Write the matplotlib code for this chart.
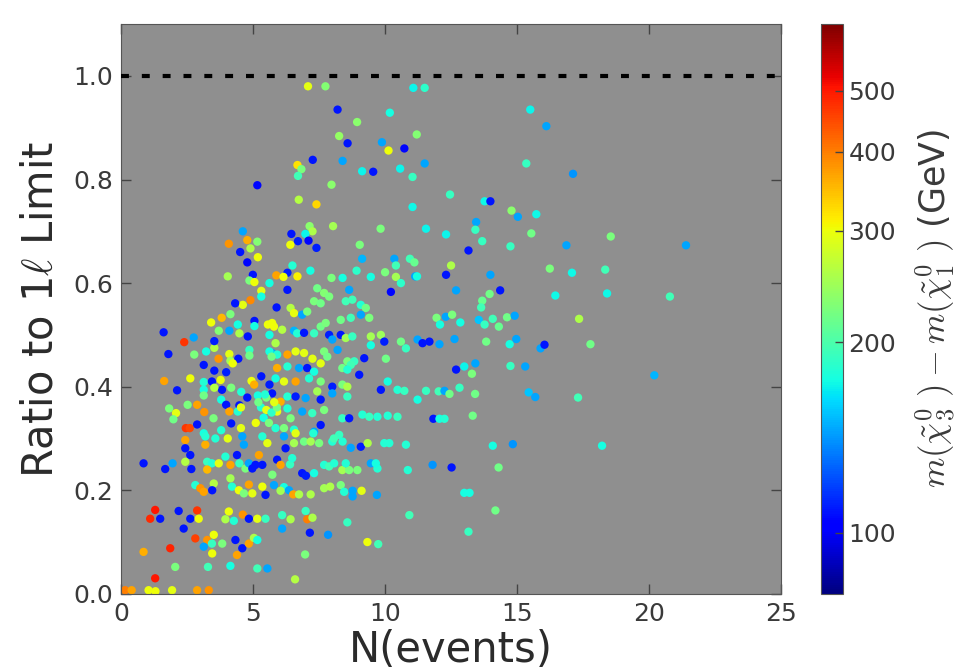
import numpy as np
import matplotlib
matplotlib.use('Agg')
import matplotlib.pyplot as plt
from matplotlib.colors import LogNorm
from matplotlib.ticker import FixedLocator, FixedFormatter, NullLocator

plt.rcParams['mathtext.fontset'] = 'cm'

# Points: N(events), ratio to the 1-lepton limit,
# and the mass splitting m(chi3) - m(chi1) in GeV used for the colour.
n_events = [
    # upper left
    7.08, 7.74, 8.20, 8.94, 8.26, 8.58, 7.26, 8.39, 9.13, 9.55,
    6.68, 6.83, 6.70, 5.16, 7.97, 6.73, 7.40, 7.14, 8.03, 7.25,
    6.98, 6.45, 6.70, 7.10, 7.40, 6.41, 4.61, 4.08, 4.78, 5.16,
    4.90, 4.51, 5.18, 4.78, 9.04, 9.13, 4.04, 6.49, 7.17, 8.92,
    6.30, 5.88, 6.68, 4.99, 7.97, 8.39, 9.46, 6.15,
    # upper right
    11.07, 11.50, 10.18, 15.50, 16.11, 11.20, 9.88, 10.13, 10.73, 11.50,
    10.57, 11.04, 15.35, 17.12, 12.46, 11.04, 13.77, 13.99, 14.79, 15.03,
    15.73, 9.83, 11.55, 12.31, 13.45, 13.42, 13.68, 15.54, 14.75, 13.16,
    16.87, 18.55, 21.40, 10.35, 10.41, 10.94, 11.11, 12.50, 12.31, 10.00,
    10.41, 11.14, 11.21, 13.99, 16.24, 17.08, 18.34,
    # right
    12.69, 14.36, 13.96, 13.68, 13.64, 16.45, 18.41, 20.79, 11.95, 12.08,
    12.30, 12.54, 12.85, 13.55, 13.77, 14.08, 14.31, 14.62, 14.91, 17.35,
    11.68, 12.06, 12.63, 13.83, 14.72, 14.97, 15.89, 16.04, 17.78, 12.69,
    13.00, 13.42, 13.29, 14.75, 15.31, 20.20, 11.55, 12.03, 12.25, 12.44,
    12.82, 13.41, 15.44, 15.69, 17.31, 11.83, 12.06, 12.25, 13.32, 14.08,
    14.84, 18.22, 11.80, 12.52, 14.30, 13.00, 13.20, 14.18, 13.16,
    # middle
    10.60, 6.30, 7.43, 7.69, 7.88, 8.64, 10.22, 7.31, 7.56, 8.51,
    8.76, 9.08, 9.27, 5.89, 6.42, 6.55, 6.86, 7.05, 8.32, 8.70,
    9.08, 9.40, 5.72, 5.79, 6.10, 6.55, 6.67, 6.93, 7.31, 7.56,
    7.75, 7.88, 8.00, 8.32, 8.51, 8.76, 9.46, 9.84, 9.97, 9.46,
    10.60, 10.79, 11.23, 11.42, 5.85, 5.72, 5.91, 6.30, 6.61, 6.93,
    7.25, 7.56, 7.69, 7.81, 8.20, 8.57, 8.83, 9.21, 10.03, 5.91,
    6.30, 6.74, 7.05, 7.31, 8.38, 8.70, 8.57, 9.02, 5.85, 6.17,
    6.61, 7.12, 7.56, 8.00, 8.38, 8.57, 10.10, 9.84, 10.47, 10.73,
    11.23, 5.72, 6.04, 6.30, 6.61, 6.99, 7.56, 7.43, 8.00, 8.57,
    5.91, 6.30, 6.42, 6.86, 7.24, 7.69, 7.56, 8.38, 8.64, 9.14,
    9.40, 9.71, 10.10, 10.47, 5.85, 6.17, 6.55, 7.31, 8.26,
    # left middle
    4.86, 5.05, 5.31, 5.31, 5.62, 4.90, 4.61, 4.32, 4.14, 3.81,
    3.41, 3.70, 4.10, 4.42, 4.48, 5.05, 5.05, 5.56, 4.80, 5.62,
    1.61, 2.75, 2.39, 1.79, 2.77, 3.22, 3.53, 3.53, 3.69, 4.10,
    4.14, 4.44, 4.86, 4.86, 5.62, 5.70, 3.13, 3.53, 3.98, 4.23,
    1.63, 2.62, 2.12, 3.13, 3.44, 3.77, 3.82, 3.53, 3.13, 3.13,
    4.17, 4.55, 4.78, 4.94, 5.04, 5.31, 5.62, 5.18, 5.50, 3.79,
    3.98, 2.52, 2.88, 1.82, 2.08, 1.98, 3.15, 3.50, 4.10, 4.48,
    4.42, 4.54, 2.45, 2.60, 2.88, 4.17, 4.54, 3.79, 3.13,
    5.30, 5.50, 5.70, 5.90, 5.40, 5.60, 5.10, 5.80, 5.20, 5.45,
    # lower left
    2.43, 3.19, 3.19, 3.57, 4.04, 4.59, 4.65, 5.35, 5.54, 2.43,
    2.62, 0.85, 1.67, 1.95, 2.43, 2.66, 3.26, 3.44, 3.70, 3.26,
    4.14, 3.95, 4.39, 4.48, 4.71, 4.84, 4.97, 5.09, 5.35, 5.22,
    5.73, 4.14, 4.20, 4.46, 4.84, 5.35, 4.97, 4.65, 5.47, 2.81,
    3.00, 3.13, 3.51, 3.45, 1.29, 1.10, 1.48, 2.18, 2.88, 2.62,
    2.94, 2.37, 4.08, 3.95, 4.27, 4.61, 4.84, 5.16, 5.47, 2.81,
    3.26, 3.51, 3.44, 3.83, 4.33, 4.59, 4.84, 5.03, 5.16, 4.39,
    3.45, 3.13, 1.86, 0.85, 2.05, 3.29, 4.14, 5.16, 5.54, 1.29,
    0.15, 0.40, 1.04, 1.30, 1.93, 2.88, 3.32,
    # lower middle
    6.17, 6.61, 6.55, 6.93, 7.18, 7.50, 8.00, 8.06, 8.39, 8.70,
    9.08, 9.34, 9.97, 10.16, 10.79, 7.28, 6.23, 5.91, 6.04, 6.40,
    6.48, 6.86, 7.00, 7.31, 7.69, 7.88, 8.07, 8.38, 8.64, 8.95,
    8.51, 9.46, 9.71, 9.65, 10.86, 5.79, 6.17, 6.04, 6.36, 6.52,
    6.74, 7.18, 7.69, 7.92, 8.32, 8.45, 8.77, 8.77, 9.11, 9.69,
    6.10, 6.42, 6.99, 7.05, 7.25, 6.10, 7.15, 7.84, 8.57, 10.92,
    9.33, 9.74, 6.97, 6.59,
]

ratio_limit = [
    # upper left
    0.980, 0.980, 0.935, 0.911, 0.884, 0.870, 0.838, 0.836, 0.816, 0.815,
    0.828, 0.820, 0.807, 0.789, 0.790, 0.761, 0.752, 0.710, 0.710, 0.700,
    0.695, 0.695, 0.681, 0.682, 0.668, 0.674, 0.700, 0.676, 0.683, 0.680,
    0.667, 0.660, 0.650, 0.640, 0.674, 0.647, 0.613, 0.634, 0.624, 0.624,
    0.620, 0.615, 0.613, 0.616, 0.610, 0.610, 0.612, 0.612,
    # upper right
    0.977, 0.977, 0.929, 0.935, 0.903, 0.887, 0.872, 0.856, 0.860, 0.831,
    0.821, 0.805, 0.831, 0.811, 0.771, 0.747, 0.758, 0.758, 0.740, 0.728,
    0.733, 0.705, 0.705, 0.694, 0.718, 0.703, 0.681, 0.696, 0.671, 0.663,
    0.673, 0.690, 0.673, 0.647, 0.634, 0.647, 0.640, 0.634, 0.616, 0.621,
    0.612, 0.613, 0.613, 0.616, 0.628, 0.620, 0.626,
    # right
    0.586, 0.586, 0.579, 0.566, 0.553, 0.576, 0.580, 0.574, 0.533, 0.520,
    0.535, 0.539, 0.524, 0.529, 0.520, 0.531, 0.516, 0.534, 0.537, 0.531,
    0.487, 0.482, 0.492, 0.487, 0.482, 0.492, 0.474, 0.481, 0.482, 0.433,
    0.439, 0.445, 0.425, 0.440, 0.439, 0.422, 0.392, 0.391, 0.392, 0.386,
    0.398, 0.386, 0.389, 0.380, 0.379, 0.338, 0.338, 0.338, 0.344, 0.286,
    0.289, 0.286, 0.249, 0.244, 0.244, 0.195, 0.195, 0.161, 0.120,
    # middle
    0.600, 0.587, 0.590, 0.581, 0.574, 0.587, 0.583, 0.565, 0.561, 0.565,
    0.568, 0.558, 0.552, 0.553, 0.552, 0.542, 0.539, 0.545, 0.529, 0.533,
    0.539, 0.533, 0.523, 0.516, 0.510, 0.508, 0.503, 0.504, 0.503, 0.516,
    0.523, 0.500, 0.491, 0.500, 0.494, 0.497, 0.497, 0.500, 0.487, 0.480,
    0.487, 0.474, 0.491, 0.484, 0.484, 0.465, 0.462, 0.462, 0.468, 0.465,
    0.454, 0.445, 0.468, 0.458, 0.471, 0.449, 0.449, 0.455, 0.454, 0.436,
    0.439, 0.436, 0.436, 0.429, 0.436, 0.442, 0.433, 0.423, 0.416, 0.410,
    0.410, 0.416, 0.410, 0.400, 0.404, 0.400, 0.410, 0.394, 0.394, 0.392,
    0.375, 0.387, 0.371, 0.381, 0.381, 0.378, 0.375, 0.391, 0.387, 0.381,
    0.352, 0.358, 0.339, 0.352, 0.349, 0.355, 0.326, 0.339, 0.339, 0.346,
    0.342, 0.342, 0.344, 0.342, 0.320, 0.320, 0.317, 0.313, 0.307,
    # left middle
    0.605, 0.602, 0.585, 0.574, 0.600, 0.567, 0.558, 0.561, 0.540, 0.533,
    0.524, 0.508, 0.508, 0.520, 0.503, 0.527, 0.517, 0.520, 0.497, 0.500,
    0.505, 0.495, 0.486, 0.463, 0.462, 0.468, 0.475, 0.488, 0.454, 0.463,
    0.450, 0.454, 0.471, 0.460, 0.468, 0.458, 0.442, 0.431, 0.428, 0.445,
    0.411, 0.416, 0.393, 0.409, 0.410, 0.413, 0.394, 0.398, 0.394, 0.383,
    0.398, 0.390, 0.379, 0.411, 0.404, 0.420, 0.404, 0.383, 0.379, 0.375,
    0.365, 0.365, 0.365, 0.358, 0.349, 0.337, 0.351, 0.339, 0.352, 0.364,
    0.352, 0.360, 0.320, 0.320, 0.327, 0.329, 0.320, 0.316, 0.310,
    0.360, 0.355, 0.350, 0.360, 0.340, 0.330, 0.330, 0.370, 0.370, 0.385,
    # lower left
    0.297, 0.288, 0.304, 0.300, 0.300, 0.304, 0.288, 0.304, 0.291, 0.281,
    0.268, 0.252, 0.241, 0.252, 0.255, 0.241, 0.255, 0.252, 0.252, 0.240,
    0.249, 0.265, 0.268, 0.252, 0.242, 0.252, 0.242, 0.249, 0.249, 0.268,
    0.230, 0.223, 0.207, 0.200, 0.211, 0.207, 0.194, 0.194, 0.191, 0.210,
    0.204, 0.197, 0.213, 0.200, 0.162, 0.145, 0.145, 0.160, 0.161, 0.145,
    0.145, 0.126, 0.159, 0.144, 0.141, 0.153, 0.145, 0.145, 0.145, 0.107,
    0.104, 0.114, 0.097, 0.097, 0.104, 0.088, 0.097, 0.108, 0.104, 0.075,
    0.078, 0.091, 0.088, 0.081, 0.052, 0.052, 0.054, 0.049, 0.049, 0.030,
    0.007, 0.007, 0.007, 0.005, 0.007, 0.007, 0.007,
    # lower middle
    0.304, 0.310, 0.291, 0.294, 0.294, 0.291, 0.294, 0.300, 0.294, 0.282,
    0.284, 0.291, 0.291, 0.291, 0.288, 0.310, 0.281, 0.259, 0.249, 0.250,
    0.262, 0.233, 0.228, 0.233, 0.249, 0.246, 0.252, 0.239, 0.239, 0.239,
    0.252, 0.252, 0.242, 0.252, 0.239, 0.210, 0.206, 0.199, 0.200, 0.192,
    0.192, 0.192, 0.204, 0.207, 0.210, 0.197, 0.199, 0.188, 0.199, 0.191,
    0.152, 0.144, 0.160, 0.144, 0.147, 0.126, 0.118, 0.114, 0.138, 0.152,
    0.100, 0.096, 0.076, 0.028,
]

mass_split = [
    # upper left
    293, 230, 108, 235, 240, 108, 108, 145, 170, 108,
    320, 225, 195, 105, 235, 260, 330, 235, 250, 255,
    170, 108, 110, 105, 110, 300, 145, 380, 360, 230,
    255, 108, 300, 105, 225, 150, 250, 180, 175, 185,
    110, 370, 310, 108, 225, 175, 175, 300,
    # upper right
    170, 185, 175, 170, 145, 230, 145, 300, 105, 145,
    170, 190, 190, 140, 190, 172, 172, 108, 235, 145,
    172, 225, 170, 170, 145, 190, 190, 220, 190, 108,
    145, 225, 145, 145, 195, 195, 215, 255, 108, 225,
    250, 145, 175, 145, 225, 172, 195,
    # right
    145, 108, 220, 215, 195, 172, 172, 195, 225, 175,
    145, 225, 175, 155, 190, 195, 215, 220, 145, 255,
    108, 145, 145, 220, 175, 145, 145, 108, 220, 108,
    170, 145, 225, 190, 145, 150, 190, 195, 145, 220,
    190, 220, 155, 145, 195, 108, 175, 180, 220, 175,
    140, 175, 140, 108, 220, 175, 175, 220, 190,
    # middle
    185, 108, 220, 230, 225, 145, 105, 225, 220, 195,
    195, 180, 220, 108, 260, 295, 145, 225, 220, 195,
    145, 225, 300, 300, 260, 150, 180, 108, 190, 220,
    225, 110, 145, 108, 250, 190, 250, 245, 110, 175,
    220, 190, 145, 108, 255, 145, 180, 370, 293, 293,
    293, 293, 225, 220, 145, 225, 190, 108, 220, 360,
    180, 145, 108, 175, 220, 195, 180, 108, 175, 293,
    370, 180, 225, 110, 225, 255, 175, 108, 180, 190,
    175, 108, 360, 180, 110, 145, 108, 250, 145, 190,
    293, 180, 225, 145, 190, 225, 108, 190, 108, 180,
    190, 180, 180, 190, 180, 225, 180, 145, 190,
    # left middle
    225, 300, 293, 175, 175, 390, 293, 108, 225, 350,
    300, 230, 145, 175, 255, 108, 175, 300, 108, 175,
    108, 145, 470, 108, 225, 175, 260, 110, 380, 293,
    250, 108, 190, 220, 175, 220, 108, 108, 110, 300,
    370, 300, 108, 180, 108, 300, 108, 260, 175, 220,
    225, 180, 108, 300, 360, 108, 110, 175, 225, 175,
    108, 225, 370, 225, 293, 220, 380, 225, 370, 108,
    180, 293, 470, 450, 108, 108, 293, 180, 175,
    180, 293, 185, 220, 175, 225, 300, 293, 220, 180,
    # lower left
    370, 360, 180, 180, 293, 145, 145, 180, 293, 108,
    108, 108, 108, 145, 260, 108, 190, 180, 293, 350,
    370, 180, 108, 190, 225, 145, 108, 108, 108, 370,
    225, 250, 180, 300, 370, 300, 293, 225, 108, 180,
    380, 370, 260, 108, 500, 480, 108, 108, 470, 108,
    300, 108, 300, 255, 180, 380, 108, 293, 190, 460,
    380, 300, 190, 225, 108, 108, 370, 255, 175, 370,
    300, 145, 490, 360, 225, 195, 175, 195, 145, 500,
    400, 370, 300, 300, 293, 370, 380,
    # lower middle
    145, 293, 250, 220, 250, 225, 180, 195, 180, 145,
    110, 255, 180, 180, 180, 180, 108, 108, 370, 190,
    180, 108, 110, 175, 180, 195, 180, 250, 225, 225,
    180, 145, 180, 175, 180, 145, 175, 250, 145, 370,
    255, 255, 250, 255, 225, 180, 145, 145, 293, 145,
    190, 255, 190, 400, 255, 145, 108, 140, 190, 195,
    300, 195, 225, 260,
]

cbar_ticks = [100, 200, 300, 400, 500]
limit_level = 1.0

text_col = '#2b2b2b'
fig = plt.figure(figsize=(9.69, 6.71), dpi=100)
ax = fig.add_axes([0.125, 0.115, 0.681, 0.849])
ax.set_facecolor('#8f8f8f')

sc = ax.scatter(n_events, ratio_limit, c=mass_split, cmap='jet',
                norm=LogNorm(vmin=80, vmax=637), s=36, marker='o',
                linewidths=0, zorder=2)
ax.axhline(limit_level, color='black', lw=3, ls=(0, (1.9, 3.1)), zorder=3)

ax.set_xlim(0, 25)
ax.set_ylim(0, 1.1)
ax.set_xticks([0, 5, 10, 15, 20, 25])
ax.set_yticks([0.0, 0.2, 0.4, 0.6, 0.8, 1.0])
ax.set_yticklabels(['0.0', '0.2', '0.4', '0.6', '0.8', '1.0'])
ax.tick_params(direction='in', top=True, right=True, length=7, width=1,
               labelsize=18, colors='#444444', labelcolor='#3a3a3a', pad=6)
for sp in ax.spines.values():
    sp.set_color('#555555')
ax.set_xlabel('N(events)', fontsize=30, color=text_col, labelpad=2)
ax.set_ylabel(r'Ratio to 1$\ell$ Limit', fontsize=30, color=text_col, labelpad=8)

cax = fig.add_axes([0.847, 0.115, 0.023, 0.849])
cb = fig.colorbar(sc, cax=cax)
cb.ax.yaxis.set_major_locator(FixedLocator(cbar_ticks))
cb.ax.yaxis.set_major_formatter(FixedFormatter([str(t) for t in cbar_ticks]))
cb.ax.yaxis.set_minor_locator(NullLocator())
cb.ax.tick_params(direction='in', length=6, width=1, labelsize=18,
                  colors='#444444', labelcolor='#3a3a3a', pad=4)
cb.outline.set_edgecolor('#555555')
cb.set_label(r'$m(\tilde{\chi}^0_3\ )-m(\tilde{\chi}^0_1\ )$ (GeV)',
             fontsize=25, color='#3a3a3a', labelpad=12)

fig.savefig('out.png', dpi=100)
